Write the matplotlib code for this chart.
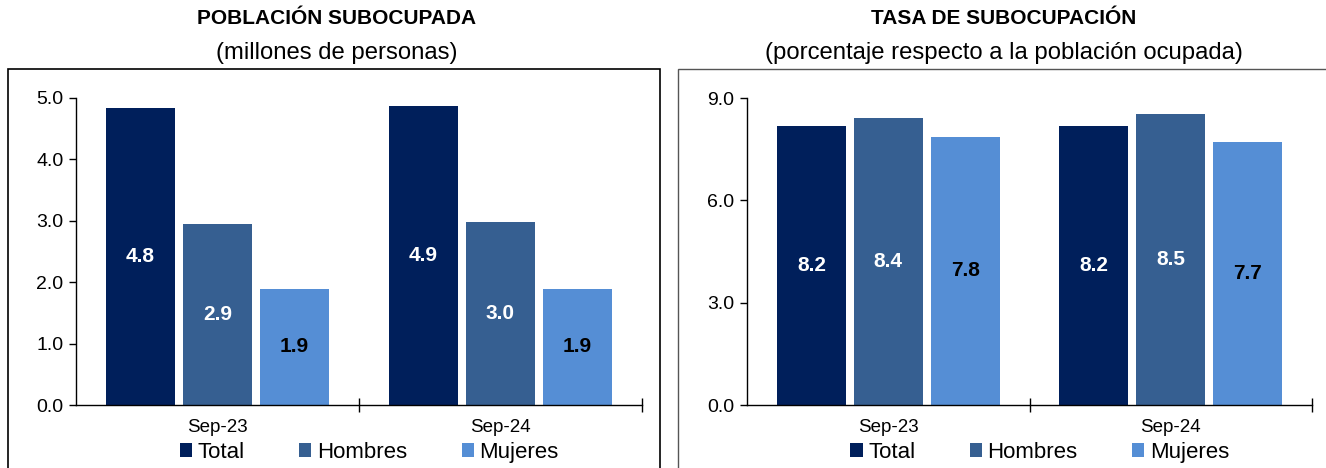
import matplotlib.pyplot as plt
import numpy as np
from matplotlib.patches import Rectangle

plt.rcParams['font.family'] = ['Liberation Sans', 'DejaVu Sans']

periods = ["Sep-23", "Sep-24"]
series = ["Total", "Hombres", "Mujeres"]
colors = ["#001f5b", "#365f91", "#558ed5"]
label_colors = ["white", "white", "black"]

# millones de personas
pob_total = [4.84, 4.87]
pob_hombres = [2.95, 2.98]
pob_mujeres = [1.89, 1.89]
pob_labels = [["4.8", "4.9"], ["2.9", "3.0"], ["1.9", "1.9"]]

# porcentaje respecto a la poblacion ocupada
tasa_total = [8.18, 8.18]
tasa_hombres = [8.41, 8.53]
tasa_mujeres = [7.86, 7.71]
tasa_labels = [["8.2", "8.2"], ["8.4", "8.5"], ["7.8", "7.7"]]

fig = plt.figure(figsize=(13.26, 4.68), dpi=100)

# panel frames
fig.patches.append(Rectangle((8 / 1326, -0.1), 652 / 1326, 1 - 69 / 468 + 0.1,
                             transform=fig.transFigure, fill=False,
                             edgecolor="black", linewidth=1.2))
fig.patches.append(Rectangle((678 / 1326, -0.1), 660 / 1326, 1 - 69 / 468 + 0.1,
                             transform=fig.transFigure, fill=False,
                             edgecolor="#555555", linewidth=1.0))


def draw_panel(rect, data, labels, ymax, yticks, title, subtitle, cx):
    ax = fig.add_axes(rect)
    x = np.arange(len(periods))
    w = 0.244
    step = 0.272
    for i, vals in enumerate(data):
        pos = x + (i - 1) * step
        ax.bar(pos, vals, width=w, color=colors[i], label=series[i])
        for p, v, t in zip(pos, vals, labels[i]):
            ax.text(p, v / 2, t, ha="center", va="center", fontsize=15,
                    fontweight="bold", color=label_colors[i])
    ax.set_xlim(-0.5, len(periods) - 0.5)
    ax.set_ylim(0, ymax)
    ax.set_yticks(yticks)
    ax.set_yticklabels([f"{t:.1f}" for t in yticks], fontsize=14)
    ax.set_xticks(x)
    ax.set_xticklabels(periods, fontsize=13.5)
    ax.tick_params(axis="x", which="major", length=0, pad=10)
    ax.set_xticks([0.5, 1.5], minor=True)
    ax.tick_params(axis="x", which="minor", length=10, direction="inout", width=1)
    ax.tick_params(axis="y", length=5, width=1, pad=4)
    for s in ["top", "right"]:
        ax.spines[s].set_visible(False)
    ax.spines["left"].set_linewidth(1)
    ax.spines["bottom"].set_linewidth(1)
    ax.legend(loc="center", bbox_to_anchor=(0.518, -0.154), ncol=3,
              frameon=False, fontsize=16, handlelength=0.55,
              handleheight=0.55, handletextpad=0.25, columnspacing=2.45,
              borderpad=0)
    fig.text(cx, 1 - 18 / 468, title, ha="center", va="center",
             fontsize=15, fontweight="bold")
    fig.text(cx, 1 - 53 / 468, subtitle, ha="center", va="center", fontsize=17.2)
    return ax


draw_panel([76 / 1326, 1 - 405 / 468, 566 / 1326, 307 / 468],
           [pob_total, pob_hombres, pob_mujeres], pob_labels,
           5.0, [0.0, 1.0, 2.0, 3.0, 4.0, 5.0],
           "POBLACIÓN SUBOCUPADA", "(millones de personas)", 337 / 1326)

draw_panel([747 / 1326, 1 - 405 / 468, 565 / 1326, 307 / 468],
           [tasa_total, tasa_hombres, tasa_mujeres], tasa_labels,
           9.0, [0.0, 3.0, 6.0, 9.0],
           "TASA DE SUBOCUPACIÓN", "(porcentaje respecto a la población ocupada)",
           1004 / 1326)

fig.savefig("out.png", dpi=100)
